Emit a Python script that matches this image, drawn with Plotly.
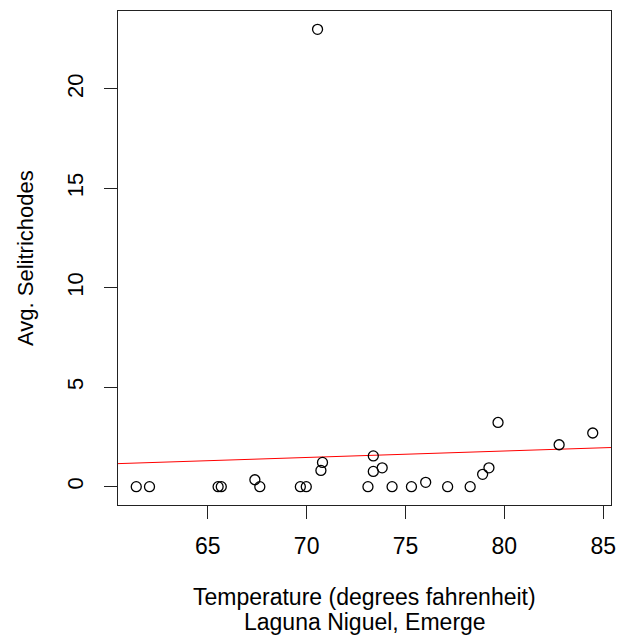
import plotly.graph_objects as go

# Data
temperature = [61.38, 62.05, 65.52, 65.68, 67.38, 67.63, 69.68, 69.98, 70.55, 70.72,
               70.80, 73.10, 73.37, 73.37, 73.82, 74.32, 75.30, 76.02, 77.13, 78.27,
               78.90, 79.22, 79.68, 82.77, 84.47]
avg_selitrichodes = [0.0, 0.0, 0.0, 0.0, 0.35, 0.0, 0.0, 0.0, 23.0, 0.82,
                     1.22, 0.0, 1.55, 0.77, 0.95, 0.0, 0.0, 0.22, 0.0, 0.0,
                     0.62, 0.95, 3.23, 2.11, 2.70]
fit_intercept = -0.805
fit_slope = 0.0325

x_ticks = [65, 70, 75, 80, 85]
y_ticks = [0, 5, 10, 15, 20]
x_title = "Temperature (degrees fahrenheit)"
x_subtitle = "Laguna Niguel, Emerge"
y_title = "Avg. Selitrichodes"

# R-style axis ranges (4% padding)
xmin, xmax = min(temperature), max(temperature)
ymin, ymax = min(avg_selitrichodes), max(avg_selitrichodes)
xpad = (xmax - xmin) * 0.04
ypad = (ymax - ymin) * 0.04
xr = [xmin - xpad, xmax + xpad]
yr = [ymin - ypad, ymax + ypad]

FONT = "Liberation Sans, Arial, sans-serif"
FSX = 23
FSY = 22

fig = go.Figure()
fig.add_trace(go.Scatter(
    x=xr, y=[fit_intercept + fit_slope * v for v in xr],
    mode="lines", line=dict(color="#ff0000", width=1), hoverinfo="skip"))
fig.add_trace(go.Scatter(
    x=temperature, y=avg_selitrichodes, mode="markers",
    marker=dict(symbol="circle-open", size=10, color="black", line=dict(width=1.3, color="black"))))

axis_common = dict(showgrid=False, zeroline=False, showline=True, linecolor="#222",
                   linewidth=1, mirror=True, ticks="outside", ticklen=13, tickwidth=1,
                   tickcolor="#222")

fig.update_layout(
    width=625, height=635,
    margin=dict(l=118, r=9, t=11, b=130),
    paper_bgcolor="white", plot_bgcolor="white",
    showlegend=False,
    xaxis=dict(range=xr, tickvals=x_ticks, ticktext=[str(t) for t in x_ticks],
               ticklabelstandoff=7, tickfont=dict(family=FONT, size=FSX, color="black"),
               **axis_common),
    yaxis=dict(range=yr, tickvals=y_ticks, ticktext=[str(t) for t in y_ticks],
               tickangle=-90, ticklabelstandoff=12,
               tickfont=dict(family=FONT, size=FSY, color="black"), **axis_common),
    annotations=[
        dict(text=x_title, xref="paper", yref="paper", x=0.5, y=-(597 - 505) / 494,
             xanchor="center", yanchor="middle", showarrow=False,
             font=dict(family=FONT, size=FSX, color="black")),
        dict(text=x_subtitle, xref="paper", yref="paper", x=0.5, y=-(622 - 505) / 494,
             xanchor="center", yanchor="middle", showarrow=False,
             font=dict(family=FONT, size=FSX, color="black")),
        dict(text=y_title, xref="paper", yref="paper", x=(24 - 118) / 498, y=0.5,
             xanchor="center", yanchor="middle", textangle=-90, showarrow=False,
             font=dict(family=FONT, size=FSY, color="black")),
    ],
)

fig.write_html("out.html")
